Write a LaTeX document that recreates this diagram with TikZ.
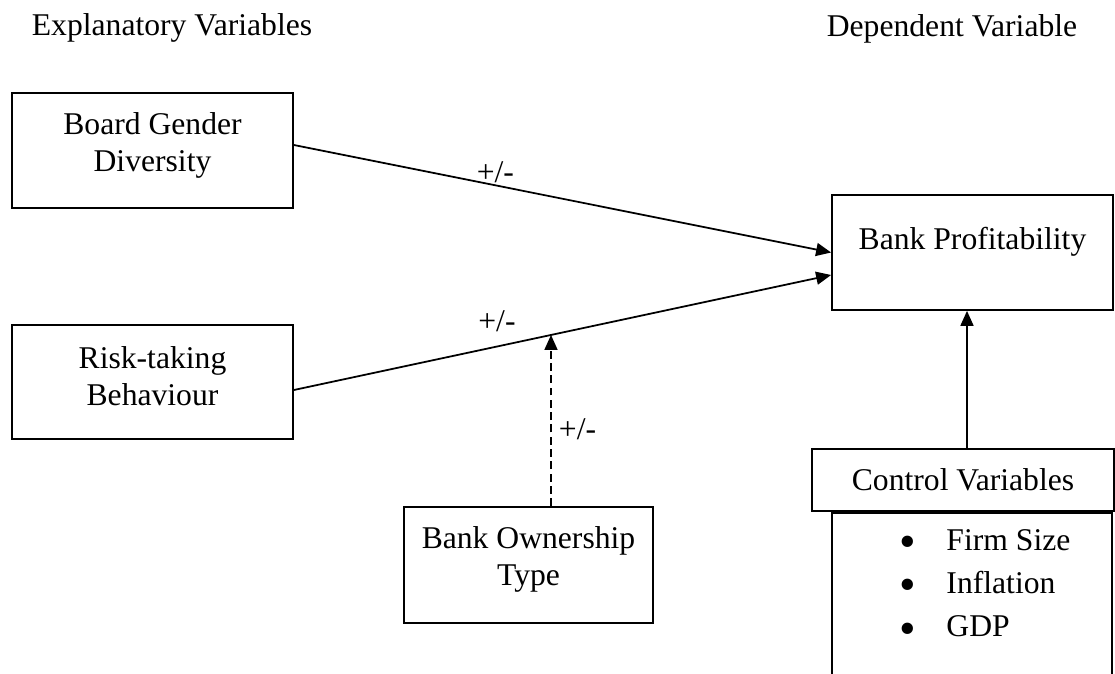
\documentclass[tikz,border=0pt]{standalone}
\usepackage{fontspec}
\setmainfont{Liberation Serif}
\usetikzlibrary{arrows.meta, intersections, positioning}
\tikzset{
    box/.style = {draw, rectangle, inner sep=0pt},
    txt/.style = {align=center, inner sep=0pt},
    sign/.style = {inner sep=1pt},
    every node/.style = {font=\fontsize{18}{21}\selectfont},
    >={Triangle[length=0.3cm, width=0.26cm]}
}
\newcommand{\bigbullet}{\raisebox{-0.24em}{\scalebox{1.5}{\textbullet}}}

\begin{document}
\begin{tikzpicture}[line width=1pt]
        \useasboundingbox (0, 0) rectangle (22.3, -13.48);
        \node (xhead) at (3.44, -0.56) {Explanatory Variables};
        \node (yhead) at (19.04, -0.58) {Dependent Variable};
        \node[box, minimum width=5.62cm, minimum height=2.3cm, label={[txt, yshift=0.11cm]center:Board Gender\\Diversity}] (board) at (3.05, -3.01) {};
        \node[box, minimum width=5.62cm, minimum height=2.28cm, label={[txt, yshift=0.12cm]center:Risk-taking\\Behaviour}] (risk) at (3.05, -7.64) {};
        \node[box, minimum width=5.62cm, minimum height=2.3cm, label={[txt, yshift=0.21cm]center:Bank Profitability}] (profit) at (19.45, -5.05) {};
        \node[box, minimum width=4.98cm, minimum height=2.32cm, label={[txt, yshift=0.12cm]center:Bank Ownership\\Type}] (owner) at (10.57, -11.3) {};
        \node[box, minimum width=6.04cm, minimum height=1.24cm] (control) at (19.26, -9.6) {Control Variables};
        \begin{scope}
            \clip (0, 0) rectangle (22.3, -13.48);
            \node[box, minimum width=5.6cm, minimum height=4cm, anchor=north] (list) at ([xshift=0.18cm]control.south) {};
        \end{scope}
        \node[anchor=base west, inner sep=0pt] (items) at (17.98, -11.0) {\renewcommand{\arraystretch}{1.176}\begin{tabular}[t]{@{}l@{\hspace{0.6cm}}l@{}}
            \bigbullet & Firm Size\\
            \bigbullet & Inflation\\
            \bigbullet & GDP
        \end{tabular}};
        \path[draw, ->] ([yshift=0.11cm]board.east) -- (profit.west) node[sign, pos=0.375, above] (s1) {+/-};
        \path[draw, ->, name path=riskline] ([yshift=-0.16cm]risk.east) -- ([yshift=-0.45cm]profit.west) node[sign, pos=0.378, above=6.7pt] (s2) {+/-};
        \path[name path=upline] ([xshift=0.45cm]owner.north) -- ++(0, 5);
        \path[name intersections={of=upline and riskline, by=m}];
        \path[draw, ->, dash pattern=on 4.5pt off 2.5pt] ([xshift=0.45cm]owner.north) -- (m) node[sign, pos=0.45, right=3pt] (s3) {+/-};
        \path[draw, ->] ([xshift=0.08cm]control.north) -- ([xshift=0.08cm]control.north |- profit.south);
    \end{tikzpicture}
\end{document}
